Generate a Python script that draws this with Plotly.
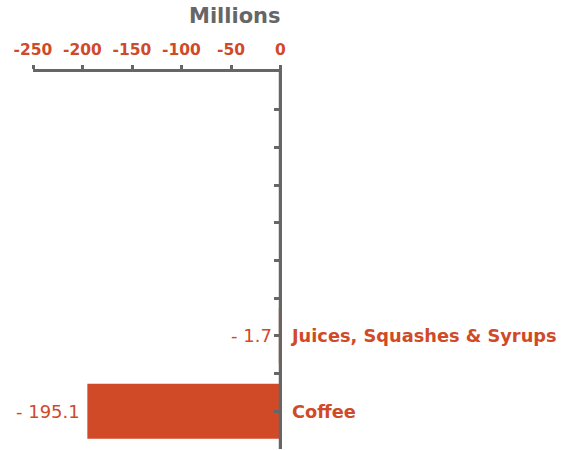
import plotly.graph_objects as go

# Change vs prior period, millions
categories = ["Coffee", "Juices, Squashes & Syrups", "", "", ""]
values = [-195.1, -1.7, None, None, None]
x_ticks = [-250, -200, -150, -100, -50, 0]

ORANGE = "#D04A28"
GREY = "#666666"
FONT = "DejaVu Sans"

pos = list(range(len(categories)))

fig = go.Figure(
    go.Bar(
        x=values,
        y=pos,
        orientation="h",
        width=0.73,
        marker=dict(color=ORANGE, line=dict(width=0)),
        hoverinfo="skip",
    )
)

# value labels placed just left of each bar's end
for p, v in zip(pos, values):
    if v is None:
        continue
    fig.add_annotation(
        x=v,
        y=p,
        xref="x",
        yref="y",
        text="- " + f"{abs(v):g}",
        showarrow=False,
        xanchor="right",
        yanchor="middle",
        xshift=-5,
        font=dict(family=FONT, size=18, color=ORANGE),
    )

# ticks at each category centre and at the boundaries between categories
y_tickvals = [i * 0.5 for i in range(-1, 2 * len(categories))]
y_ticktext = [categories[int(v)] if v >= 0 and float(v).is_integer() else "" for v in y_tickvals]

fig.update_layout(
    width=569,
    height=450,
    margin=dict(l=33, r=287, t=72, b=1),
    paper_bgcolor="white",
    plot_bgcolor="white",
    showlegend=False,
    font=dict(family=FONT),
    xaxis=dict(
        side="top",
        range=[-250, 1.5],
        tickvals=x_ticks,
        ticktext=[str(t) for t in x_ticks],
        ticks="outside",
        ticklen=4,
        tickwidth=3,
        tickcolor=GREY,
        showline=True,
        linecolor=GREY,
        linewidth=3,
        showgrid=False,
        zeroline=False,
        tickfont=dict(family=FONT, size=15.5, color=ORANGE, weight="bold"),
        ticklabelstandoff=4,
    ),
    yaxis=dict(
        side="right",
        range=[-0.5, len(categories) - 0.5],
        tickvals=y_tickvals,
        ticktext=y_ticktext,
        ticks="inside",
        ticklen=8,
        tickwidth=3,
        tickcolor=GREY,
        showline=False,
        showgrid=False,
        zeroline=False,
        tickfont=dict(family=FONT, size=17.8, color=ORANGE, weight="bold"),
        ticklabelstandoff=9,
    ),
    shapes=[
        # vertical axis line drawn along x = 0
        dict(
            type="line",
            xref="x",
            yref="paper",
            x0=0,
            x1=0,
            y0=0,
            y1=1,
            line=dict(color=GREY, width=3.5),
            layer="above",
        )
    ],
)

fig.add_annotation(
    text="Millions",
    xref="paper",
    yref="paper",
    x=1,
    y=1,
    xanchor="right",
    yanchor="middle",
    xshift=1,
    yshift=56,
    showarrow=False,
    font=dict(family=FONT, size=21, color=GREY, weight="bold"),
)

fig.write_html("out.html")
